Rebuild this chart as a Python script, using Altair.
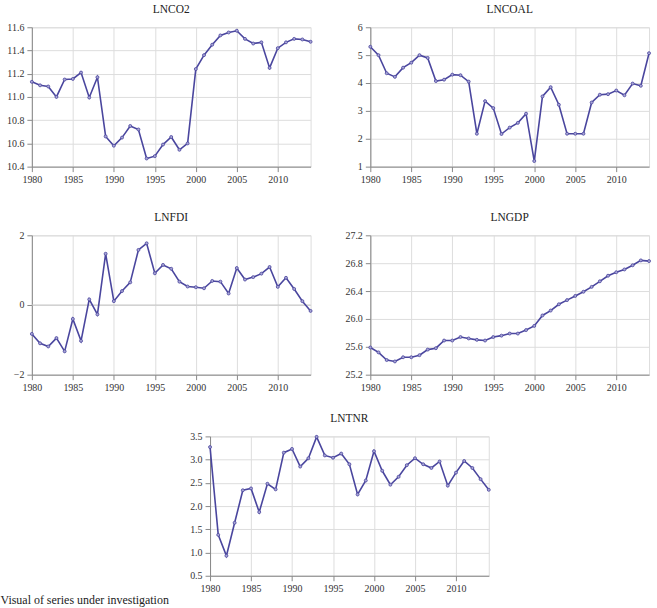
import altair as alt
import pandas as pd

years = list(range(1980, 2015))

lnco2 = [11.13, 11.10, 11.09, 11.00, 11.15, 11.155, 11.21, 10.995, 11.17, 10.66,
         10.58, 10.65, 10.75, 10.72, 10.47, 10.49, 10.59, 10.655, 10.545, 10.60,
         11.24, 11.36, 11.45, 11.53, 11.555, 11.57, 11.50, 11.46, 11.47, 11.25,
         11.42, 11.47, 11.50, 11.495, 11.475]
lncoal = [5.3, 5.0, 4.35, 4.22, 4.55, 4.73, 5.0, 4.9, 4.07, 4.12,
          4.3, 4.28, 4.05, 2.18, 3.35, 3.1, 2.17, 2.4, 2.57, 2.9,
          1.2, 3.52, 3.85, 3.22, 2.18, 2.18, 2.18, 3.3, 3.58, 3.6,
          3.73, 3.56, 3.98, 3.9, 5.07]
lnfdi = [-0.83, -1.1, -1.19, -0.95, -1.33, -0.4, -1.03, 0.16, -0.27, 1.47,
         0.11, 0.4, 0.65, 1.58, 1.77, 0.91, 1.15, 1.04, 0.67, 0.53,
         0.51, 0.48, 0.69, 0.67, 0.33, 1.06, 0.73, 0.8, 0.9, 1.09,
         0.52, 0.78, 0.46, 0.11, -0.17]
lngdp = [25.59, 25.52, 25.41, 25.39, 25.45, 25.45, 25.48, 25.56, 25.58, 25.69,
         25.69, 25.74, 25.72, 25.70, 25.69, 25.74, 25.76, 25.79, 25.79, 25.84,
         25.90, 26.05, 26.12, 26.21, 26.27, 26.33, 26.39, 26.46, 26.54, 26.62,
         26.67, 26.71, 26.77, 26.84, 26.83]
lntnr = [3.27, 1.38, 0.93, 1.64, 2.34, 2.38, 1.87, 2.48, 2.36, 3.15,
         3.23, 2.85, 3.03, 3.49, 3.09, 3.04, 3.13, 2.9, 2.25, 2.55,
         3.18, 2.76, 2.46, 2.63, 2.88, 3.03, 2.9, 2.82, 2.96, 2.44,
         2.72, 2.97, 2.82, 2.58, 2.35]

x_ticks = [1980, 1985, 1990, 1995, 2000, 2005, 2010]

FONT = "Liberation Serif"
LINE = "#4a469e"
W, H = 280, 140
EXT = 31


def panel(name, values, domain, ticks, fmt, zero=False):
    df = pd.DataFrame({"year": years, "value": values})
    base = alt.Chart(df)
    line = base.mark_line(
        color=LINE, strokeWidth=1.6,
        point=alt.OverlayMarkDef(filled=True, fill="#a9a7d6", stroke=LINE,
                                 strokeWidth=0.8, size=9)
    ).encode(
        x=alt.X("year:Q", scale=alt.Scale(domain=[1980, 2014], nice=False, zero=False),
                axis=alt.Axis(values=x_ticks, format="d", title=None, labelFlush=False,
                              labelFont=FONT, labelFontSize=10, labelColor="#333333",
                              labelPadding=3)),
        y=alt.Y("value:Q", scale=alt.Scale(domain=domain, nice=False, zero=False),
                axis=alt.Axis(values=ticks, format=fmt, title=None,
                              labelFont=FONT, labelFontSize=10, labelColor="#333333",
                              labelPadding=3, minExtent=EXT, maxExtent=EXT)),
    )
    layers = [line]
    if zero:
        rule_df = pd.DataFrame({"z": [0]})
        rule = alt.Chart(rule_df).mark_rule(color="#c8c8c8", strokeWidth=1).encode(y="z:Q")
        layers = [rule, line]
    return alt.layer(*layers).properties(
        width=W, height=H,
        title=alt.TitleParams(name, font=FONT, fontSize=11.5, fontWeight="normal",
                              color="#222222", offset=7),
    )


p1 = panel("LNCO2", lnco2, [10.4, 11.6], [10.4, 10.6, 10.8, 11.0, 11.2, 11.4, 11.6], ".1f")
p2 = panel("LNCOAL", lncoal, [1, 6], [1, 2, 3, 4, 5, 6], "d")
p3 = panel("LNFDI", lnfdi, [-2, 2], [-2, -1, 0, 1, 2], "d", zero=True)
p4 = panel("LNGDP", lngdp, [25.2, 27.2], [25.2, 25.6, 26.0, 26.4, 26.8, 27.2], ".1f")
p5 = panel("LNTNR", lntnr, [0.5, 3.5], [0.5, 1.0, 1.5, 2.0, 2.5, 3.0, 3.5], ".1f")

spacer = alt.Chart(pd.DataFrame({"a": [0]})).mark_point(opacity=0).encode(
    x=alt.value(0), y=alt.value(0)
).properties(width=1, height=H, view=alt.ViewBackground(stroke="transparent"))

row1 = alt.hconcat(p1, p2, spacing=24)
row2 = alt.hconcat(p3, p4, spacing=24)
row3 = alt.hconcat(spacer, p5, spacing=143)

top = alt.vconcat(row1, row2, spacing=26)

chart = alt.vconcat(top, row3, spacing=19).properties(
    padding={"left": 0, "top": 2, "right": 4, "bottom": 0},
    title=alt.TitleParams("Visual of series under investigation", orient="bottom",
                          anchor="start", font=FONT, fontSize=12, fontWeight="normal",
                          color="#222222", offset=1),
).configure_view(
    stroke="#d6d6d6", strokeWidth=1
).configure_axis(
    grid=True, gridColor="#ebebeb", gridWidth=1,
    domain=False, ticks=False,
).configure(background="white")

chart.save("out.html", embed_options={"renderer": "svg", "actions": False})
